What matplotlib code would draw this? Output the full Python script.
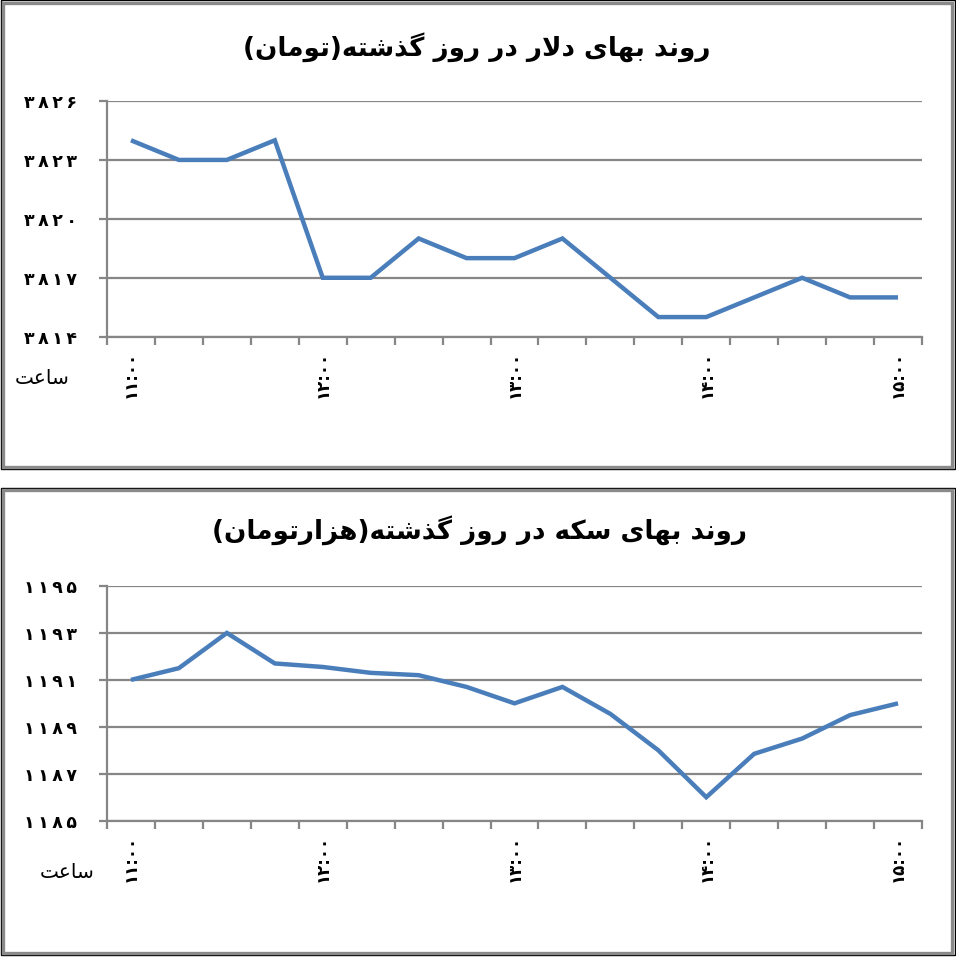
import matplotlib
matplotlib.use("Agg")
import matplotlib.pyplot as plt
from matplotlib.patches import Rectangle
from matplotlib.ticker import FixedLocator, FixedFormatter

# ---------------- data ----------------
times = ["۱۱:۰۰", "۱۱:۱۵", "۱۱:۳۰", "۱۱:۴۵", "۱۲:۰۰", "۱۲:۱۵", "۱۲:۳۰", "۱۲:۴۵",
         "۱۳:۰۰", "۱۳:۱۵", "۱۳:۳۰", "۱۳:۴۵", "۱۴:۰۰", "۱۴:۱۵", "۱۴:۳۰", "۱۴:۴۵", "۱۵:۰۰"]
label_every = 4

dollar_values = [3824, 3823, 3823, 3824, 3817, 3817, 3819, 3818, 3818,
                 3819, 3817, 3815, 3815, 3816, 3817, 3816, 3816]
dollar_ticks = [3814, 3817, 3820, 3823, 3826]
dollar_ticklabels = ["۳۸۱۴", "۳۸۱۷", "۳۸۲۰", "۳۸۲۳", "۳۸۲۶"]
dollar_title = "روند بهای دلار در روز گذشته(تومان)"

coin_values = [1191.0, 1191.5, 1193.0, 1191.7, 1191.55, 1191.3, 1191.2, 1190.7, 1190.0,
               1190.7, 1189.55, 1188.0, 1186.0, 1187.85, 1188.5, 1189.5, 1190.0]
coin_ticks = [1185, 1187, 1189, 1191, 1193, 1195]
coin_ticklabels = ["۱۱۸۵", "۱۱۸۷", "۱۱۸۹", "۱۱۹۱", "۱۱۹۳", "۱۱۹۵"]
coin_title = "روند بهای سکه در روز گذشته(هزارتومان)"

xlabel_text = "ساعت"

# ---------------- simple Arabic/Persian shaping ----------------
FORMS = {
    # right-joining: (isolated, final)
    "ا": ("\uFE8D", "\uFE8E", None, None),
    "د": ("\uFEA9", "\uFEAA", None, None),
    "ذ": ("\uFEAB", "\uFEAC", None, None),
    "ر": ("\uFEAD", "\uFEAE", None, None),
    "ز": ("\uFEAF", "\uFEB0", None, None),
    "و": ("\uFEED", "\uFEEE", None, None),
    # dual-joining: (isolated, final, initial, medial)
    "ب": ("\uFE8F", "\uFE90", "\uFE91", "\uFE92"),
    "ت": ("\uFE95", "\uFE96", "\uFE97", "\uFE98"),
    "ن": ("\uFEE5", "\uFEE6", "\uFEE7", "\uFEE8"),
    "ه": ("\uFEE9", "\uFEEA", "\uFEEB", "\uFEEC"),
    "ی": ("\uFBFC", "\uFBFD", "\uFBFE", "\uFBFF"),
    "ل": ("\uFEDD", "\uFEDE", "\uFEDF", "\uFEE0"),
    "گ": ("\uFB92", "\uFB93", "\uFB94", "\uFB95"),
    "ش": ("\uFEB5", "\uFEB6", "\uFEB7", "\uFEB8"),
    "م": ("\uFEE1", "\uFEE2", "\uFEE3", "\uFEE4"),
    "س": ("\uFEB1", "\uFEB2", "\uFEB3", "\uFEB4"),
    "ک": ("\uFB8E", "\uFB8F", "\uFB90", "\uFB91"),
    "ع": ("\uFEC9", "\uFECA", "\uFECB", "\uFECC"),
}


def dual(c):
    return c in FORMS and FORMS[c][2] is not None


def shape_rtl(text):
    chars = list(text)
    out = []
    i = 0
    n = len(chars)
    while i < n:
        c = chars[i]
        if c not in FORMS:
            out.append(c)
            i += 1
            continue
        prev_join = i > 0 and dual(chars[i - 1]) and not (
            i > 1 and chars[i - 2] == "ل" and chars[i - 1] == "ا")
        if c == "ل" and i + 1 < n and chars[i + 1] == "ا":
            out.append("\uFEFC" if prev_join else "\uFEFB")
            i += 2
            continue
        next_join = dual(c) and i + 1 < n and chars[i + 1] in FORMS
        iso, fin, ini, med = FORMS[c]
        if prev_join and next_join:
            out.append(med)
        elif prev_join:
            out.append(fin)
        elif next_join:
            out.append(ini)
        else:
            out.append(iso)
        i += 1
    vis = "".join(reversed(out))
    vis = vis.translate(str.maketrans({"(": ")", ")": "("}))
    return vis


def spaced(s):
    return "\u2009".join(s)


# ---------------- figure ----------------
W, H = 956, 960
fig = plt.figure(figsize=(W / 100, H / 100), dpi=100)
fig.patch.set_facecolor("white")

LINE = "#4A7EBB"
GRID = "#868686"


def px_rect(x0, y0, x1, y1, color, lw):
    r = Rectangle((x0 / W, 1 - y1 / H), (x1 - x0) / W, (y1 - y0) / H,
                  transform=fig.transFigure, fill=False, edgecolor=color,
                  linewidth=lw, zorder=0)
    fig.add_artist(r)


def frame(y0, y1):
    px_rect(1, y0 + 0.5, 954.5, y1, "#000000", 1.0)
    px_rect(3, y0 + 3, 952, y1 - 2.5, "#8A8A8A", 2.4)


frame(0, 469.5)
frame(487, 955)


def make_panel(ax, values, ticks, ticklabels):
    x = list(range(len(values)))
    ax.plot(x, values, color=LINE, linewidth=3.2, solid_joinstyle="miter",
            solid_capstyle="butt", zorder=3)
    ax.set_xlim(-0.5, len(values) - 0.5)
    ax.set_ylim(ticks[0], ticks[-1])
    ax.yaxis.set_major_locator(FixedLocator(ticks))
    ax.yaxis.set_major_formatter(FixedFormatter([spaced(t) for t in ticklabels]))
    ax.grid(axis="y", color=GRID, linewidth=1.6, zorder=1)
    ax.set_axisbelow(True)
    for s in ("top", "right"):
        ax.spines[s].set_visible(False)
    for s in ("left", "bottom"):
        ax.spines[s].set_color(GRID)
        ax.spines[s].set_linewidth(1.6)
    ax.tick_params(axis="y", length=5.5, width=1.6, color=GRID, pad=16,
                   labelsize=12.5, labelcolor="black")
    for t in ax.get_yticklabels():
        t.set_fontweight("bold")
    # x: major ticks on category boundaries, labels as minor ticks
    bounds = [i - 0.5 for i in range(len(values) + 1)]
    ax.xaxis.set_major_locator(FixedLocator(bounds))
    ax.xaxis.set_major_formatter(FixedFormatter([""] * len(bounds)))
    lab_pos = list(range(0, len(values), label_every))
    ax.xaxis.set_minor_locator(FixedLocator(lab_pos))
    ax.xaxis.set_minor_formatter(FixedFormatter([times[i] for i in lab_pos]))
    ax.tick_params(axis="x", which="major", length=5.5, width=1.6, color=GRID,
                   direction="out")
    ax.tick_params(axis="x", which="minor", length=0, pad=10, labelsize=12,
                   labelrotation=90)
    for t in ax.xaxis.get_minorticklabels():
        t.set_fontweight("bold")


ax1 = fig.add_axes([107 / W, 1 - 336.7 / H, 815 / W, 235.7 / H])
make_panel(ax1, dollar_values, dollar_ticks, dollar_ticklabels)
ax2 = fig.add_axes([107 / W, 1 - 820.7 / H, 815 / W, 234.7 / H])
make_panel(ax2, coin_values, coin_ticks, coin_ticklabels)

fig.text(477 / W, 1 - 47 / H, shape_rtl(dollar_title), ha="center", va="center",
         fontsize=18.8, fontweight="bold")
fig.text(480 / W, 1 - 530 / H, shape_rtl(coin_title), ha="center", va="center",
         fontsize=18.8, fontweight="bold")
fig.text(42 / W, 1 - 378 / H, shape_rtl(xlabel_text), ha="center", va="center",
         fontsize=14.5)
fig.text(67 / W, 1 - 873 / H, shape_rtl(xlabel_text), ha="center", va="center",
         fontsize=14.5)

fig.savefig("out.png", dpi=100, facecolor="white")
